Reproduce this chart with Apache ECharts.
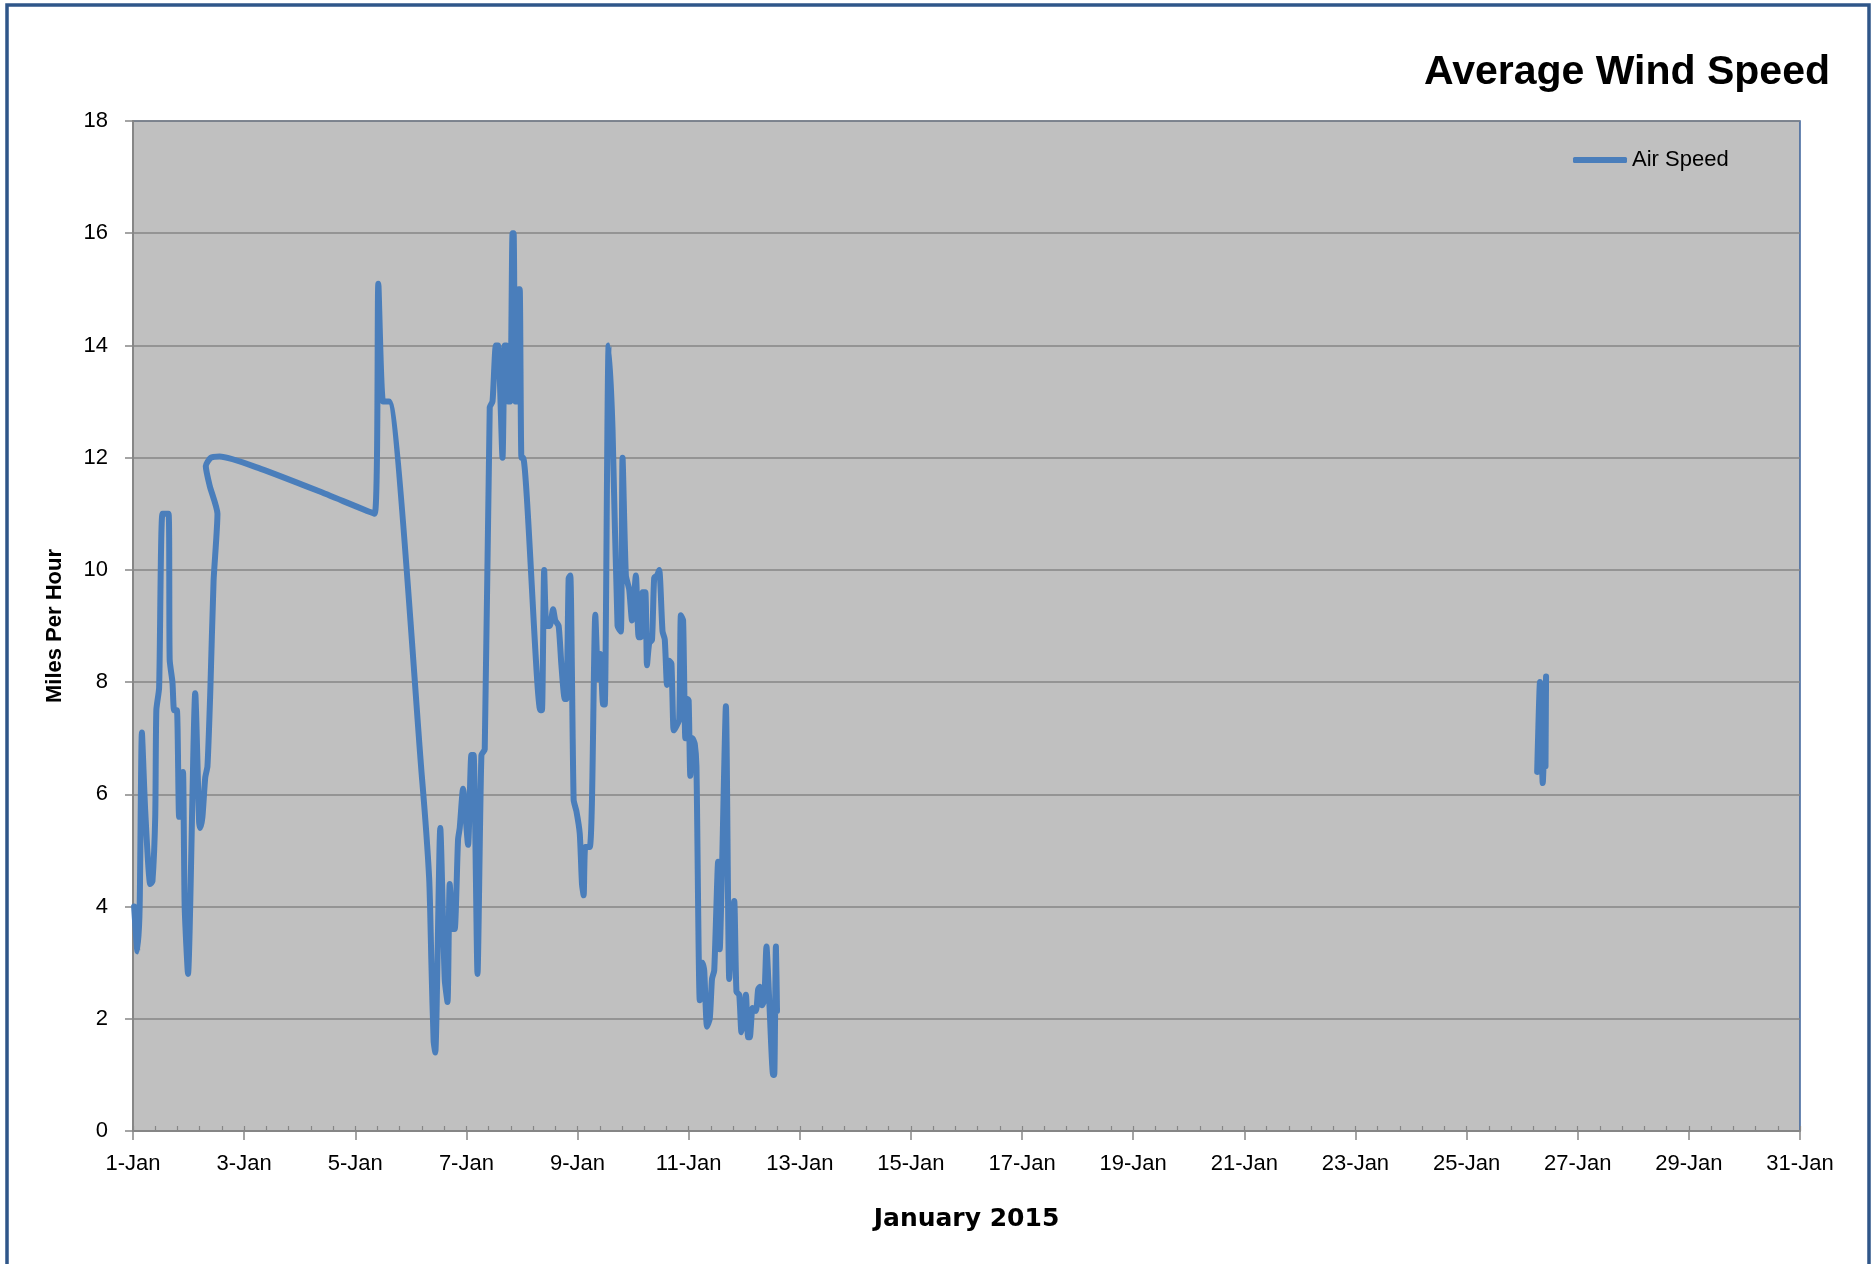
<!DOCTYPE html>
<html>
<head>
<meta charset="utf-8">
<script src="https://cdn.jsdelivr.net/npm/echarts@6/dist/echarts.min.js"></script>
<style>
  html, body { margin: 0; padding: 0; background: #ffffff; }
  #chart { width: 1875px; height: 1264px; }
</style>
</head>
<body>
<div id="chart"></div>
<script>
// Day of month (fractional) for each reading
const days = [
  1.02, 1.08, 1.12, 1.16, 1.22, 1.31, 1.35, 1.40, 1.42, 1.47,
  1.53, 1.64, 1.66, 1.71, 1.74, 1.79, 1.83, 1.86, 1.90, 1.93,
  1.99, 2.12, 2.19, 2.21, 2.25, 2.30, 2.34, 2.39, 2.45, 2.52,
  2.38, 2.31, 2.40, 2.56, 3.30, 4.35, 5.35, 5.415, 5.50, 5.61,
  6.20, 6.33, 6.37, 6.41, 6.44, 6.53, 6.61, 6.66, 6.70, 6.76,
  6.79, 6.85, 6.88, 6.94, 7.03, 7.09, 7.13, 7.20, 7.27, 7.33,
  7.42, 7.47, 7.53, 7.57, 7.65, 7.69, 7.72, 7.75, 7.79, 7.83,
  7.85, 7.88, 7.91, 7.94, 7.96, 7.99, 8.02, 8.33, 8.36, 8.40,
  8.44, 8.50, 8.56, 8.60, 8.66, 8.71, 8.77, 8.80, 8.84, 8.87,
  8.93, 8.98, 9.04, 9.08, 9.11, 9.14, 9.22, 9.26, 9.32, 9.37,
  9.41, 9.46, 9.49, 9.56, 9.63, 9.72, 9.78, 9.81, 9.87, 9.93,
  9.98, 10.05, 10.10, 10.14, 10.17, 10.22, 10.25, 10.29, 10.34, 10.38,
  10.43, 10.47, 10.53, 10.57, 10.61, 10.65, 10.69, 10.73, 10.77, 10.83,
  10.86, 10.90, 10.94, 10.98, 11.00, 11.03, 11.07, 11.11, 11.14, 11.20,
  11.25, 11.28, 11.33, 11.38, 11.42, 11.46, 11.53, 11.56, 11.60, 11.67,
  11.73, 11.77, 11.82, 11.86, 11.91, 11.95, 11.99, 12.03, 12.07, 12.10,
  12.15, 12.21, 12.25, 12.28, 12.32, 12.36, 12.40, 12.45, 12.52, 12.54,
  12.57, 12.59,
  13.00,
  26.27, 26.32, 26.37, 26.43, 26.42
];
// Air speed (mph) at each reading; null = no data (gap)
const airSpeed = [
  4.0, 3.2, 4.0, 7.1, 5.7, 4.4, 4.45, 5.6, 7.5, 7.9,
  11.0, 11.0, 8.4, 8.0, 7.5, 7.5, 5.6, 5.6, 6.4, 4.0,
  2.8, 7.8, 5.5, 5.4, 5.6, 6.3, 6.5, 7.8, 9.8, 11.0,
  11.5, 11.85, 12.0, 12.02, 11.8, 11.4, 11.0, 15.1, 13.0, 13.0,
  6.3, 4.5, 3.0, 1.6, 1.4, 5.4, 2.7, 2.3, 4.4, 3.6,
  3.6, 5.2, 5.4, 6.1, 5.1, 6.7, 6.7, 2.8, 6.7, 6.8,
  12.9, 13.0, 14.0, 14.0, 12.0, 14.0, 14.0, 13.0, 13.0, 16.0,
  16.0, 13.0, 13.0, 15.0, 15.0, 12.0, 12.0, 7.5, 7.5, 10.0,
  9.0, 9.0, 9.3, 9.1, 9.0, 8.3, 7.7, 7.7, 9.85, 9.9,
  5.9, 5.7, 5.3, 4.4, 4.2, 5.06, 5.06, 5.9, 9.2, 8.05,
  8.5, 7.6, 7.6, 14.0, 12.5, 9.0, 8.9, 12.0, 9.9, 9.65,
  9.1, 9.9, 8.8, 8.8, 9.6, 9.6, 8.3, 8.7, 8.75, 9.86,
  9.9, 10.0, 8.9, 8.76, 7.95, 8.38, 8.33, 7.14, 7.2, 7.33,
  9.19, 9.1, 7.0, 7.7, 7.67, 6.33, 7.0, 6.9, 6.5, 2.33,
  3.0, 2.86, 1.86, 2.0, 2.71, 2.86, 4.8, 3.24, 4.67, 7.57,
  2.71, 3.38, 4.1, 2.48, 2.43, 1.76, 2.0, 2.43, 1.67, 1.67,
  2.19, 2.14, 2.52, 2.57, 2.24, 2.33, 3.29, 2.33, 1.0, 1.0,
  3.29, 2.14,
  null,
  6.4, 8.0, 6.2, 8.1, 6.5
];
const xTickLabels = ['1-Jan','3-Jan','5-Jan','7-Jan','9-Jan','11-Jan','13-Jan','15-Jan',
  '17-Jan','19-Jan','21-Jan','23-Jan','25-Jan','27-Jan','29-Jan','31-Jan'];
const yTickValues = [0, 2, 4, 6, 8, 10, 12, 14, 16, 18];

const seriesData = days.map((d, i) => [d - 1, airSpeed[i] === null ? '-' : airSpeed[i]]);

const FONT = '"Liberation Sans", Arial, sans-serif';
const chart = echarts.init(document.getElementById('chart'), null, { renderer: 'canvas' });
chart.setOption({
  backgroundColor: '#ffffff',
  animation: false,
  title: {
    text: 'Average Wind Speed',
    right: 40,
    top: 47,
    textStyle: { fontFamily: FONT, fontSize: 41, fontWeight: 'bold', color: '#000000' }
  },
  legend: {
    data: ['Air Speed'],
    left: 1568,
    top: 144,
    icon: 'roundRect',
    itemWidth: 54,
    itemHeight: 6,
    itemGap: 5,
    textStyle: { fontFamily: FONT, fontSize: 22, color: '#000000' }
  },
  grid: {
    left: 133, right: 75, top: 121, bottom: 133,
    show: true,
    backgroundColor: '#c0c0c0',
    borderColor: '#3b629a',
    borderWidth: 1.5
  },
  xAxis: [{
    type: 'value',
    min: 0, max: 30, interval: 2,
    name: 'January 2015',
    nameLocation: 'middle',
    nameGap: 76,
    nameTextStyle: { fontFamily: '"DejaVu Sans", sans-serif', fontSize: 25, fontWeight: 'bold', color: '#000000' },
    axisLine: { show: true, lineStyle: { color: '#868686', width: 2 } },
    axisTick: { show: true, length: 9, lineStyle: { color: '#868686', width: 1.5 } },
    axisLabel: {
      margin: 22,
      fontFamily: FONT, fontSize: 22, color: '#000000',
      formatter: v => xTickLabels[Math.round(v / 2)]
    },
    splitLine: { show: false }
  }, {
    type: 'value',
    min: 0, max: 30, interval: 0.4,
    position: 'bottom',
    axisLine: { show: false },
    axisTick: { show: true, inside: true, length: 5, lineStyle: { color: '#868686', width: 1.2 } },
    axisLabel: { show: false },
    splitLine: { show: false }
  }],
  yAxis: {
    type: 'value',
    min: yTickValues[0], max: yTickValues[yTickValues.length - 1], interval: 2,
    name: 'Miles Per Hour',
    nameLocation: 'middle',
    nameGap: 67,
    nameTextStyle: { fontFamily: FONT, fontSize: 22, fontWeight: 'bold', color: '#000000' },
    axisLine: { show: true, lineStyle: { color: '#868686', width: 2 } },
    axisTick: { show: true, length: 8, lineStyle: { color: '#868686', width: 1.5 } },
    axisLabel: { margin: 25, fontFamily: FONT, fontSize: 22, color: '#000000' },
    splitLine: { show: true, lineStyle: { color: '#868686', width: 1.5 } }
  },
  series: [{
    name: 'Air Speed',
    type: 'line',
    xAxisIndex: 0,
    data: seriesData,
    showSymbol: false,
    symbol: 'none',
    smooth: 0.2,
    connectNulls: false,
    itemStyle: { color: '#4a7ebb' },
    lineStyle: { color: '#4a7ebb', width: 6, cap: 'round', join: 'round' }
  }],
  graphic: [{
    type: 'rect',
    z: 100,
    silent: true,
    shape: { x: 7, y: 5, width: 1862, height: 1300 },
    style: { fill: 'none', stroke: '#2f5689', lineWidth: 3.5 }
  }]
});
</script>
</body>
</html>
